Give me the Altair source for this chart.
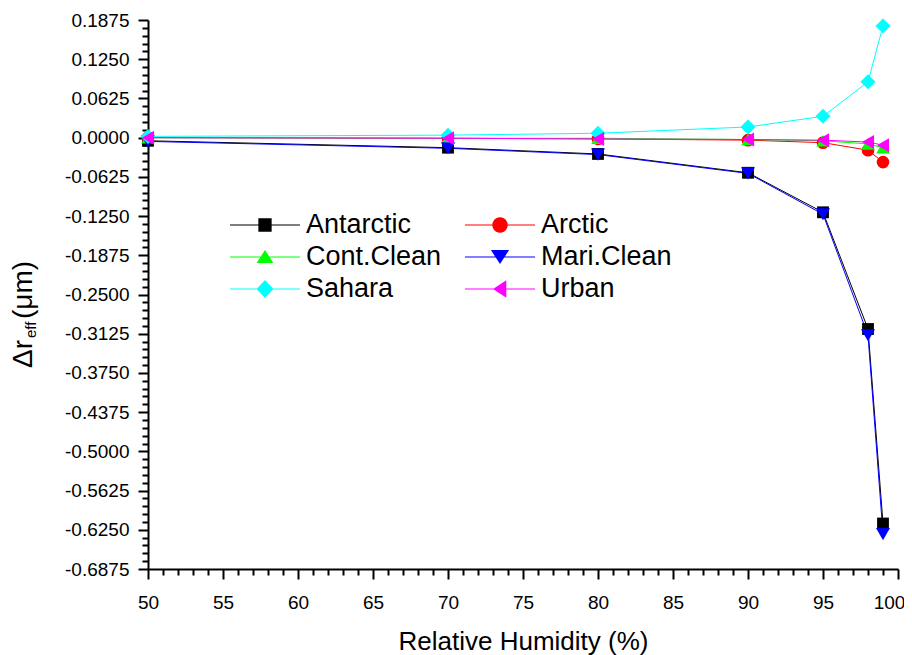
import altair as alt
import pandas as pd
import math

# ---- data ----
humidity = [50, 70, 80, 90, 95, 98, 99]
antarctic = [-0.005, -0.016, -0.026, -0.056, -0.119, -0.305, -0.615]
arctic = [0.000, -0.001, -0.002, -0.004, -0.008, -0.020, -0.039]
cont_clean = [0.000, -0.001, -0.001, -0.003, -0.005, -0.010, -0.016]
mari_clean = [-0.006, -0.017, -0.027, -0.057, -0.122, -0.315, -0.632]
sahara = [0.002, 0.004, 0.007, 0.017, 0.034, 0.089, 0.178]
urban = [0.000, -0.001, -0.002, -0.003, -0.004, -0.007, -0.012]

series_names = ["Antarctic", "Arctic", "Cont.Clean", "Mari.Clean", "Sahara", "Urban"]
series_values = [antarctic, arctic, cont_clean, mari_clean, sahara, urban]
series_colors = ["#000000", "#ff0000", "#00ff00", "#0000ff", "#00ffff", "#ff00ff"]
series_shapes = ["square", "circle", "triangle-up", "triangle-down", "diamond", "triangle-left"]
series_sizes = [140, 160, 180, 196, 225, 196]

x_ticks = list(range(50, 101))
y_ticks = [round(-0.6875 + i * 0.0125, 4) + 0.0 for i in range(71)]

FONT = "Liberation Sans"

rows = []
for name, vals in zip(series_names, series_values):
    for h, v in zip(humidity, vals):
        rows.append({"RH": h, "dr": v, "Series": name})
df = pd.DataFrame(rows)


# legend symbols: a thin bar (the line) with the marker on it, unit box -1..1,
# every sub-path clockwise so that the fill has no holes
def poly(pts):
    h = 0.0143
    bar = f"M-1,{-h}L1,{-h}L1,{h}L-1,{h}Z"
    return bar + "M" + "L".join(f"{x:.3f},{y:.3f}" for x, y in pts) + "Z"


circle_pts = [(0.22 * math.cos(2 * math.pi * k / 24), 0.22 * math.sin(2 * math.pi * k / 24)) for k in range(24)]
legend_paths = [
    poly([(-0.19, -0.19), (0.19, -0.19), (0.19, 0.19), (-0.19, 0.19)]),
    poly(circle_pts),
    poly([(0, -0.2), (0.24, 0.17), (-0.24, 0.17)]),
    poly([(0, 0.2), (-0.26, -0.2), (0.26, -0.2)]),
    poly([(0, -0.26), (0.24, 0), (0, 0.26), (-0.24, 0)]),
    poly([(-0.2, 0), (0.18, -0.25), (0.18, 0.25)]),
]

x_scale = alt.Scale(domain=[50, 100], nice=False, zero=False)
y_scale = alt.Scale(domain=[-0.6875, 0.1875], nice=False, zero=False)

Y_MAJOR = "abs(datum.value/0.0625 - round(datum.value/0.0625)) < 0.001"

x_axis_kw = dict(
    title="Relative Humidity (%)",
    values=x_ticks,
    labelExpr="datum.value % 5 === 0 ? datum.label : ''",
    tickSize={"condition": {"test": "datum.value % 5 === 0", "value": 10}, "value": 6},
    grid=False,
    domainColor="black",
    domainWidth=2,
    tickColor="black",
    tickWidth=2,
    labelFont=FONT,
    labelFontSize=19,
    labelColor="black",
    labelPadding=14,
    labelFlush=False,
    labelOverlap=False,
    titleFont=FONT,
    titleFontSize=26,
    titleFontWeight="normal",
    titleColor="black",
    titleBaseline="alphabetic",
    titleY=80,
)
try:
    x_axis = alt.Axis(
        labelOffset={"condition": {"test": "datum.value === 100", "value": -9}, "value": 0},
        **x_axis_kw,
    )
    alt.Chart(df).mark_point().encode(x=alt.X("RH:Q", axis=x_axis)).to_dict()
except Exception:
    x_axis = alt.Axis(**x_axis_kw)

y_axis = alt.Axis(
    title=None,
    values=y_ticks,
    labelExpr=Y_MAJOR + " ? replace(format(datum.value, '.4f'), '\u2212', '-') : ''",
    tickSize={"condition": {"test": Y_MAJOR, "value": 10}, "value": 6},
    grid=False,
    domainColor="black",
    domainWidth=2,
    tickColor="black",
    tickWidth=2,
    labelFont=FONT,
    labelFontSize=19,
    labelColor="black",
    labelPadding=9,
    labelFlush=False,
    labelOverlap=False,
)

X = alt.X("RH:Q", scale=x_scale, axis=x_axis)
Y = alt.Y("dr:Q", scale=y_scale, axis=y_axis)

base = alt.Chart(df)

lines = base.mark_line(strokeWidth=1).encode(
    x=X,
    y=Y,
    color=alt.Color("Series:N", scale=alt.Scale(domain=series_names, range=series_colors), legend=None),
    order=alt.Order("RH:Q"),
)

point_layers = []
for name, col, shp, sz in zip(series_names, series_colors, series_shapes, series_sizes):
    point_layers.append(
        base.transform_filter(alt.datum.Series == name)
        .mark_point(filled=True, opacity=1, shape=shp, size=sz, color=col)
        .encode(x=X, y=Y)
    )

leg = alt.Legend(
    title=None,
    orient="none",
    direction="horizontal",
    legendX=82,
    legendY=170,
    columns=2,
    gridAlign="none",
    columnPadding=23,
    rowPadding=-16,
    symbolSize=4900,
    symbolStrokeWidth=0,
    symbolOpacity=1,
    labelFont=FONT,
    labelFontSize=27,
    labelColor="black",
    labelOffset=6,
    labelLimit=0,
    padding=0,
)

# legend-only layer: its marks are moved outside the y domain and clipped away
legend_layer = (
    base.transform_calculate(dr="5")
    .mark_point(filled=True, size=4900, opacity=1, clip=True)
    .encode(
        x=X,
        y=Y,
        color=alt.Color("Series:N", scale=alt.Scale(domain=series_names, range=series_colors), legend=leg),
        shape=alt.Shape("Series:N", scale=alt.Scale(domain=series_names, range=legend_paths), legend=leg),
    )
)

one = pd.DataFrame({"k": [0]})
t_big = alt.Chart(one).mark_text(
    text="\u0394r", angle=270, align="left", baseline="alphabetic",
    font=FONT, fontSize=28, color="black",
).encode(x=alt.value(-116), y=alt.value(348))
t_sub = alt.Chart(one).mark_text(
    text="eff", angle=270, align="left", baseline="alphabetic",
    font=FONT, fontSize=15, color="black",
).encode(x=alt.value(-112), y=alt.value(318))
t_unit = alt.Chart(one).mark_text(
    text="(\u03bcm)", angle=270, align="left", baseline="alphabetic",
    font=FONT, fontSize=28, color="black",
).encode(x=alt.value(-116), y=alt.value(299))

chart = (
    alt.layer(lines, *point_layers, legend_layer, t_big, t_sub, t_unit)
    .resolve_scale(color="independent", shape="independent")
    .properties(
        width=750,
        height=549,
        autosize=alt.AutoSizeParams(type="none"),
        padding={"left": 140, "top": 12, "right": 6, "bottom": 86},
        background="white",
    )
    .configure_view(stroke=None)
)

chart.save("out.html", embed_options={"renderer": "svg", "actions": False})
